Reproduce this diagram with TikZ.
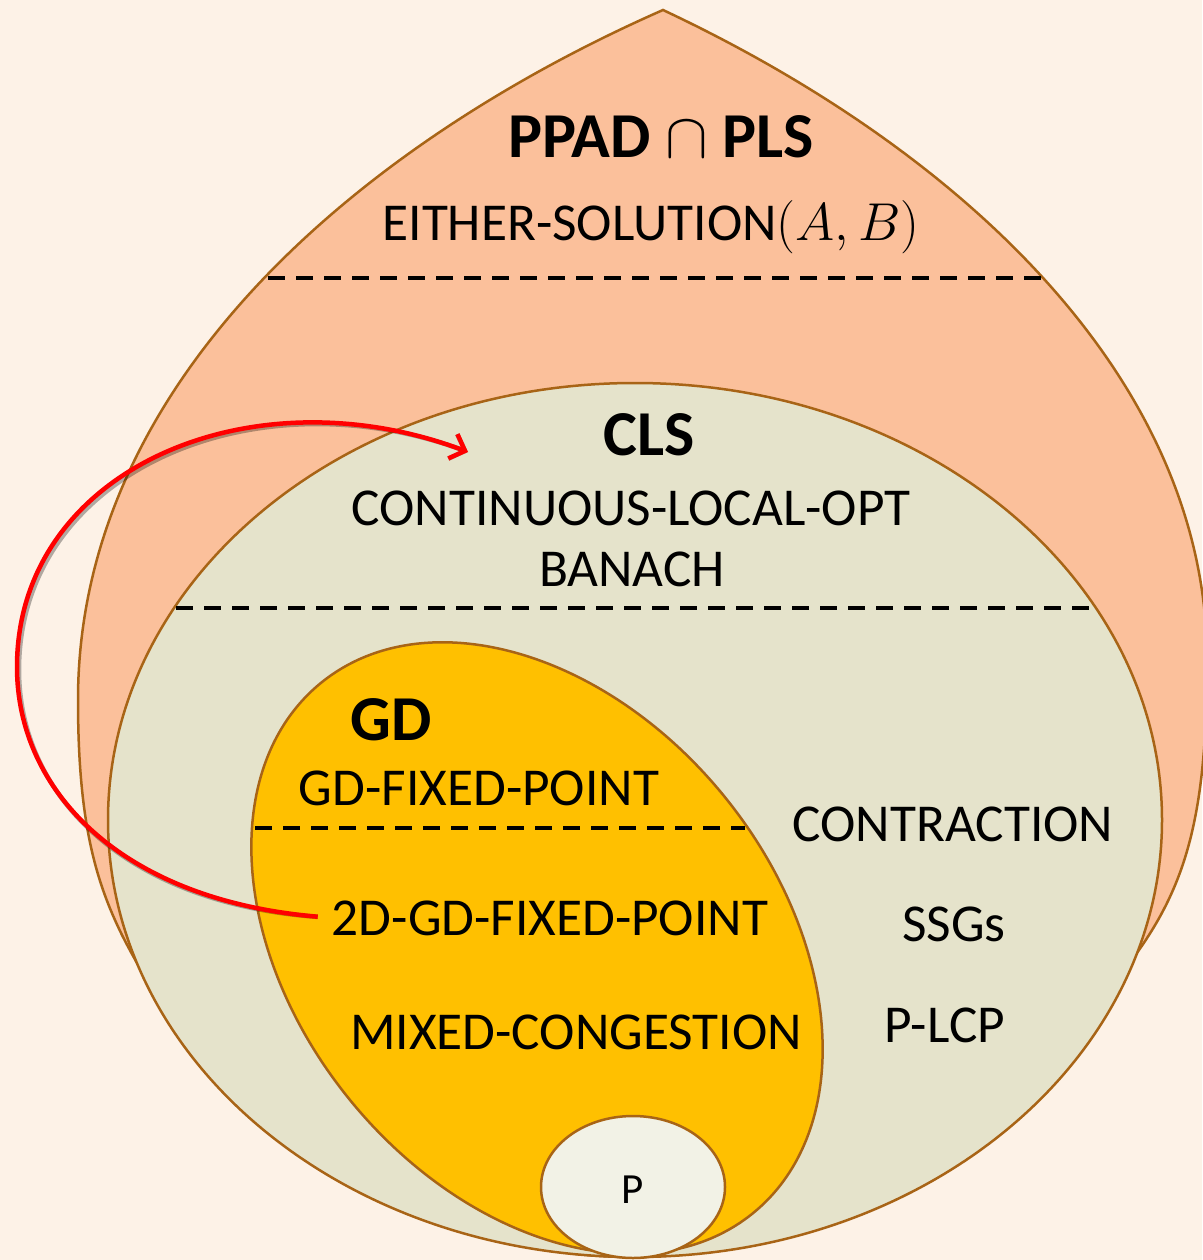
\documentclass[tikz,border=0pt]{standalone}
\usepackage{fix-cm}
\usepackage{fontspec}
\setmainfont{Carlito}
\usetikzlibrary{arrows.meta}
\definecolor{bgpeach}{RGB}{253,242,231}
\definecolor{ppadfill}{RGB}{251,192,155}
\definecolor{clsfill}{RGB}{229,227,203}
\definecolor{gdfill}{RGB}{255,192,0}
\definecolor{pfill}{RGB}{242,242,230}
\definecolor{rim}{RGB}{168,100,22}
\begin{document}
\begin{tikzpicture}[x=1pt,y=1pt,yscale=-1,
  rim line/.style={draw=rim, line width=2.5pt},
  sep line/.style={line width=3.5pt, dash pattern=on 17pt off 11pt},
  title/.style={font=\fontsize{64}{70}\selectfont\bfseries, inner sep=0pt, anchor=base},
  item/.style={font=\fontsize{53.3}{60}\selectfont, inner sep=0pt, anchor=base},
  reduction/.style={line width=4.5pt, -{Straight Barb[length=13pt,width=26pt]}, shorten <=14pt}]
	\useasboundingbox (0,0) rectangle (1202,1260);
	\fill[bgpeach] (0,0) rectangle (1202,1260);
	% PPAD cap PLS
	\draw[rim line, fill=ppadfill] (663,10) .. controls (363,142) and (78,380) .. (78,700) .. controls (78,820) and (95,880) .. (122,935) .. controls (230,1150) and (450,1257) .. (630,1257) .. controls (800,1257) and (1000,1170) .. (1128,965) .. controls (1185,890) and (1207,820) .. (1207,660) .. controls (1207,380) and (963,151) .. (663,10) -- cycle;
	\draw[sep line] (268,278) -- (1044,278);
	% CLS
	\draw[rim line, fill=clsfill] (635,820) ellipse [x radius=527, y radius=437];
	\draw[sep line] (176,608) -- (1090,608);
	% GD
	\draw[rim line, fill=gdfill, rotate around={50.8:(537,948)}] (537,948) ellipse [x radius=342, y radius=241];
	\draw[sep line] (255,828) -- (745,828);
	% P
	\draw[rim line, fill=pfill] (633,1187) ellipse [x radius=92, y radius=71];

	\node[title] (ppadpls) at (661,158) {PPAD $\cap$ PLS};
	\node[item] (either) at (651,240) {EITHER-SOLUTION$(A,B)$};
	\node[title] (cls) at (649,455) {CLS};
	\node[item] (clo) at (631,525) {CONTINUOUS-LOCAL-OPT};
	\node[item] (banach) at (632,586) {BANACH};
	\node[title] (gd) at (391,740) {GD};
	\node[item] (gdfp) at (479,805) {GD-FIXED-POINT};
	\node[item] (gdtwo) at (550,935) {2D-GD-FIXED-POINT};
	\node[item] (mixed) at (576,1049) {MIXED-CONGESTION};
	\node[item] (contraction) at (953,841) {CONTRACTION};
	\node[item] (ssgs) at (954,941) {SSGs};
	\node[item] (plcp) at (945,1042) {P-LCP};
	\node[item, font=\fontsize{43}{50}\selectfont] (pclass) at (633,1203) {P};

	% reduction arrow with its shadow
	\coordinate (clsentry) at (468,452);
	\draw[reduction, black, opacity=0.3, xshift=2pt, yshift=3pt] (gdtwo.west) .. controls (120,900) and (17,790) .. (17,667) .. controls (17,470) and (250,370) .. (clsentry);
	\draw[reduction, red] (gdtwo.west) .. controls (120,900) and (17,790) .. (17,667) .. controls (17,470) and (250,370) .. (clsentry);
\end{tikzpicture}
\end{document}
